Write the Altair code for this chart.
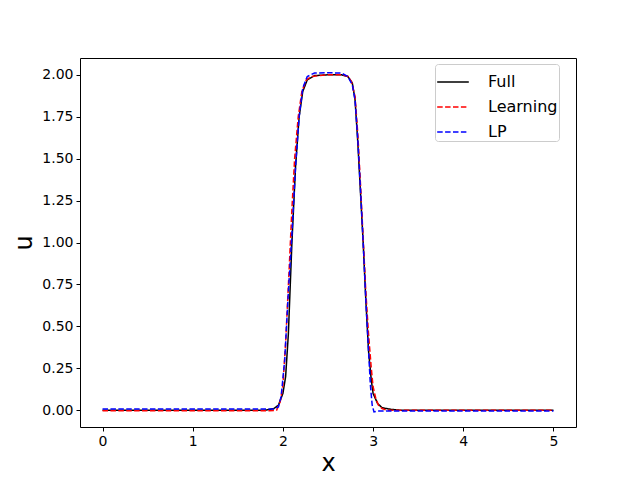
import altair as alt
import pandas as pd

x_full = [0, 1.8, 1.9, 1.95, 2.0, 2.03, 2.06, 2.1, 2.14, 2.18, 2.22, 2.27, 2.35, 2.5, 2.65, 2.72, 2.77, 2.8, 2.83, 2.86, 2.89, 2.92, 2.95, 2.98, 3.0, 3.05, 3.1, 3.2, 3.3, 5]
y_full = [0, 0.0, 0.01, 0.03, 0.1, 0.2, 0.45, 1.0, 1.45, 1.75, 1.9, 1.97, 1.995, 2.0, 2.0, 1.99, 1.95, 1.85, 1.6, 1.3, 1.0, 0.65, 0.35, 0.18, 0.1, 0.04, 0.015, 0.005, 0.0, 0.0]

x_learn = [0, 1.85, 1.93, 1.97, 2.0, 2.03, 2.07, 2.1, 2.13, 2.17, 2.21, 2.26, 2.32, 2.5, 2.66, 2.72, 2.76, 2.8, 2.83, 2.86, 2.89, 2.92, 2.95, 2.98, 3.0, 3.03, 3.06, 3.1, 3.15, 5]
y_learn = [-0.003, -0.003, 0.0, 0.05, 0.15, 0.4, 0.85, 1.2, 1.5, 1.75, 1.9, 1.97, 1.99, 2.0, 2.0, 1.99, 1.96, 1.87, 1.65, 1.35, 1.02, 0.7, 0.45, 0.25, 0.14, 0.07, 0.03, 0.01, 0.0, 0.0]

x_lp = [0, 1.9, 1.95, 1.98, 2.02, 2.06, 2.1, 2.14, 2.18, 2.22, 2.27, 2.35, 2.5, 2.65, 2.72, 2.77, 2.8, 2.83, 2.86, 2.89, 2.92, 2.95, 2.97, 2.99, 3.01, 3.05, 5]
y_lp = [0.008, 0.008, 0.02, 0.08, 0.3, 0.7, 1.05, 1.45, 1.75, 1.92, 1.99, 2.01, 2.012, 2.01, 1.99, 1.94, 1.85, 1.62, 1.32, 1.0, 0.65, 0.35, 0.15, 0.03, -0.01, -0.005, -0.005]

series = ["Full", "Learning", "LP"]
colors = ["black", "red", "blue"]
dashes = [[1, 0], [5.5, 2.4], [5.5, 2.4]]
x_ticks = [0, 1, 2, 3, 4, 5]
y_ticks = [0, 0.25, 0.5, 0.75, 1.0, 1.25, 1.5, 1.75, 2.0]

def frame(xs, ys, name):
    return pd.DataFrame({"x": xs, "u": ys, "series": name})

color_scale = alt.Scale(domain=series, range=colors)
dash_scale = alt.Scale(domain=series, range=dashes)

def layer(df):
    return alt.Chart(df).mark_line(strokeWidth=1.5, clip=True).encode(
        x=alt.X("x:Q", scale=alt.Scale(domain=[-0.25, 5.25], nice=False, zero=False),
                axis=alt.Axis(values=x_ticks, format="d", title="x")),
        y=alt.Y("u:Q", scale=alt.Scale(domain=[-0.1, 2.1], nice=False, zero=False),
                axis=alt.Axis(values=y_ticks, format=".2f", title="u")),
        color=alt.Color("series:N", scale=color_scale, title=None,
                        legend=alt.Legend(orient="none", legendX=355, legendY=6,
                                          symbolType="stroke", symbolSize=1000,
                                          symbolStrokeWidth=1.5,
                                          labelFontSize=16, labelFont="DejaVu Sans",
                                          rowPadding=-4, padding=1,
                                          strokeColor="#cccccc", cornerRadius=3,
                                          fillColor="white", labelOffset=18)),
        strokeDash=alt.StrokeDash("series:N", scale=dash_scale, title=None),
    )

chart = alt.layer(
    layer(frame(x_full, y_full, "Full")),
    layer(frame(x_learn, y_learn, "Learning")),
    layer(frame(x_lp, y_lp, "LP")),
).properties(
    width=496, height=369,
    autosize=alt.AutoSizeParams(type="none"),
    padding={"left": 72, "top": 50, "right": 56, "bottom": 52},
).configure_view(
    stroke="black", strokeWidth=1
).configure_axis(
    grid=False, domain=False, tickColor="black", tickSize=4, labelFontSize=14,
    labelColor="black", labelFont="DejaVu Sans", titleFont="DejaVu Sans",
    titleFontSize=24, titleFontWeight="normal", titleColor="black", labelPadding=3,
).configure_axisY(titlePadding=5).configure_axisX(titlePadding=3)

chart.save("out.html", embed_options={"renderer": "svg", "actions": False})
